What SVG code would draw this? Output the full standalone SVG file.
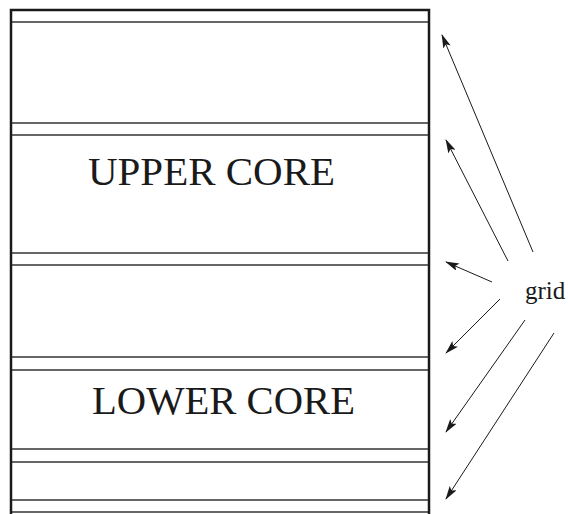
<svg xmlns="http://www.w3.org/2000/svg" width="568" height="514" viewBox="0 0 568 514">
<defs>
<style>
.frame{fill:none;stroke:#1a1a1a;stroke-width:2.5}
.band{stroke:#333;stroke-width:1.3;fill:none}
.lbl{font-family:"Liberation Serif","Times New Roman",serif;fill:#1a1a1a}
.arr{stroke:#1a1a1a;stroke-width:1;fill:none;marker-end:url(#ah)}
</style>
<marker id="ah" viewBox="0 0 14 8" refX="13" refY="4" markerWidth="14" markerHeight="8" markerUnits="userSpaceOnUse" orient="auto">
<path d="M0,0 L14,4 L0,8 L3,4 Z" fill="#1a1a1a"/>
</marker>
</defs>
<rect width="568" height="514" fill="#fff"/>
<g id="column">
<path class="frame" d="M11,514 L11,10 L429,10 L429,514"/>
</g>
<g id="grid-lines">
<line class="band" x1="12" y1="22" x2="428" y2="22"/>
<line class="band" x1="12" y1="123" x2="428" y2="123"/>
<line class="band" x1="12" y1="135" x2="428" y2="135"/>
<line class="band" x1="12" y1="253" x2="428" y2="253"/>
<line class="band" x1="12" y1="265" x2="428" y2="265"/>
<line class="band" x1="12" y1="357" x2="428" y2="357"/>
<line class="band" x1="12" y1="370" x2="428" y2="370"/>
<line class="band" x1="12" y1="449" x2="428" y2="449"/>
<line class="band" x1="12" y1="462" x2="428" y2="462"/>
<line class="band" x1="12" y1="500" x2="428" y2="500"/>
<line class="band" x1="12" y1="512" x2="428" y2="512"/>
</g>
<g id="upper-core">
<text class="lbl" x="88" y="185" font-size="40" textLength="247" lengthAdjust="spacingAndGlyphs">UPPER CORE</text>
</g>
<g id="lower-core">
<text class="lbl" x="92" y="414" font-size="40" textLength="263" lengthAdjust="spacingAndGlyphs">LOWER CORE</text>
</g>
<g id="grid-label">
<text class="lbl" x="525" y="299" font-size="25">grid</text>
</g>
<g id="connectors">
<line class="arr" x1="533" y1="252" x2="442" y2="35"/>
<line class="arr" x1="508" y1="261" x2="446" y2="140"/>
<line class="arr" x1="492" y1="282" x2="446" y2="262"/>
<line class="arr" x1="500" y1="299" x2="446" y2="353"/>
<line class="arr" x1="525" y1="320" x2="446" y2="432"/>
<line class="arr" x1="554" y1="333" x2="446" y2="499"/>
</g>
</svg>
